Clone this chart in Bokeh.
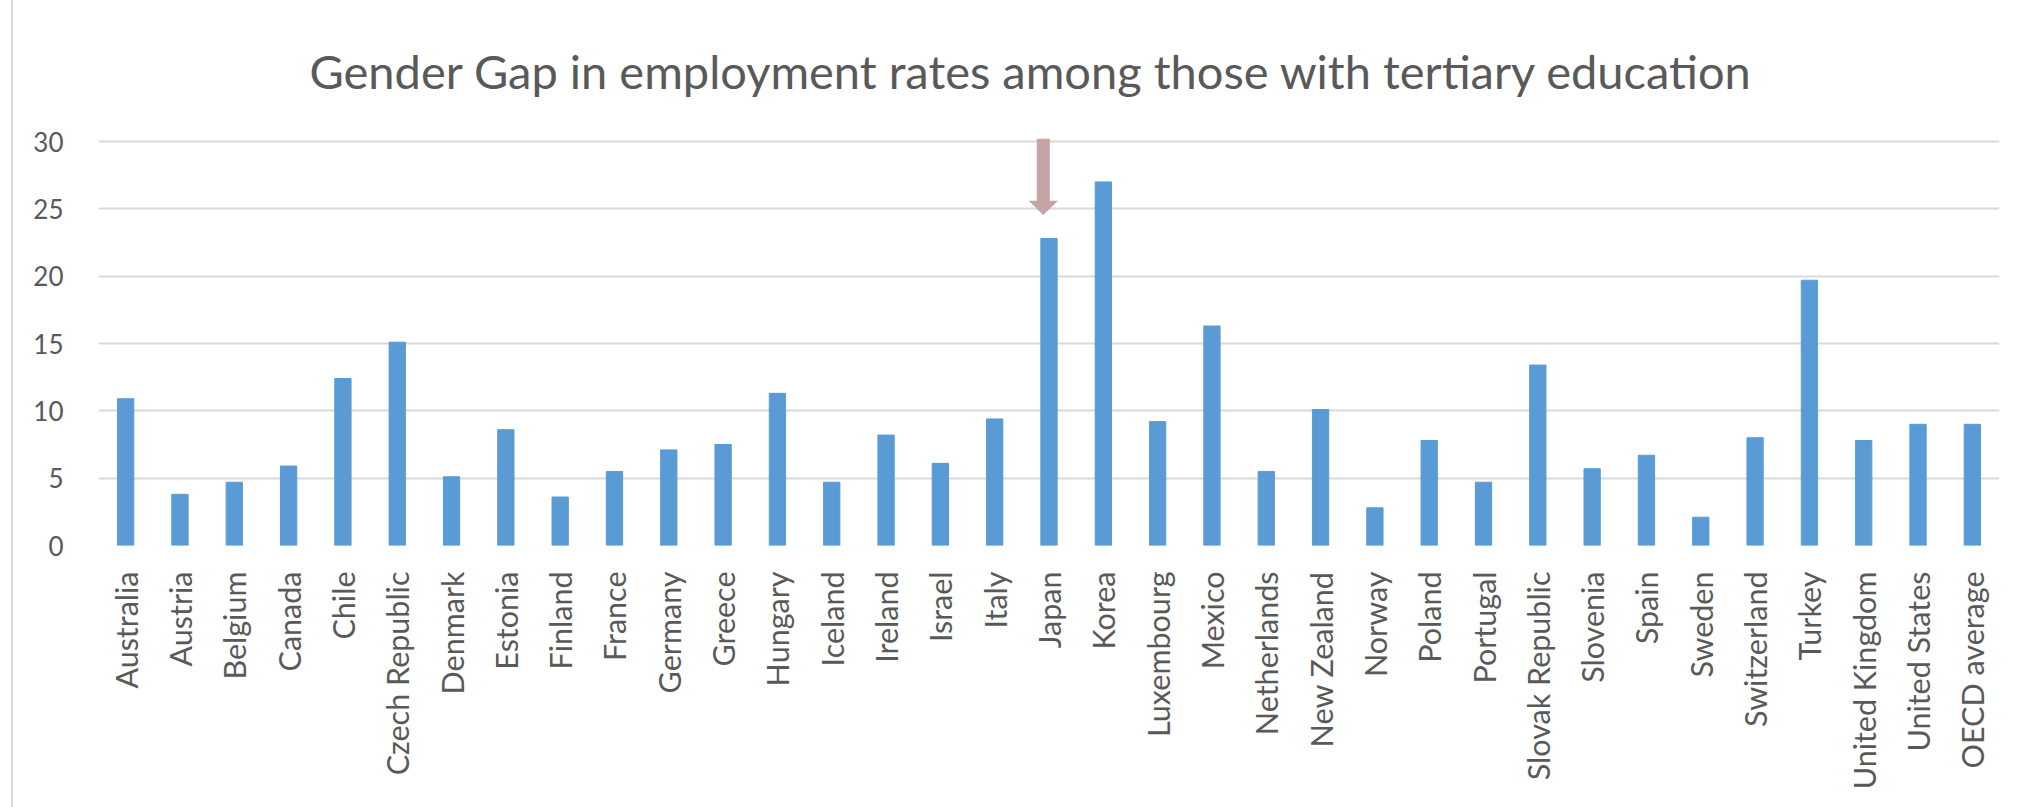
import math
from bokeh.plotting import figure
from bokeh.models import FactorRange, Range1d, FixedTicker
from bokeh.embed import file_html
from bokeh.resources import INLINE

title_text = "Gender Gap in employment rates among those with tertiary education"

countries = [
    "Australia", "Austria", "Belgium", "Canada", "Chile", "Czech Republic",
    "Denmark", "Estonia", "Finland", "France", "Germany", "Greece", "Hungary",
    "Iceland", "Ireland", "Israel", "Italy", "Japan", "Korea", "Luxembourg",
    "Mexico", "Netherlands", "New Zealand", "Norway", "Poland", "Portugal",
    "Slovak Republic", "Slovenia", "Spain", "Sweden", "Switzerland", "Turkey",
    "United Kingdom", "United States", "OECD average",
]
gender_gap = [
    10.9, 3.8, 4.7, 5.9, 12.4, 15.1,
    5.1, 8.6, 3.6, 5.5, 7.1, 7.5, 11.3,
    4.7, 8.2, 6.1, 9.4, 22.8, 27.0, 9.2,
    16.3, 5.5, 10.1, 2.8, 7.8, 4.7,
    13.4, 5.7, 6.7, 2.1, 8.0, 19.7,
    7.8, 9.0, 9.0,
]
y_ticks = [0, 5, 10, 15, 20, 25, 30]

# arrow annotation pointing at Japan
arrow_at = "Japan"
arrow_top, arrow_neck, arrow_tip = 30.2, 25.6, 24.55

TEXT = "#595959"
FONT = "Lato"

p = figure(
    x_range=FactorRange(*countries),
    y_range=Range1d(0, 30.3),
    width=2012, height=807,
    output_backend="svg", toolbar_location=None,
    min_border_left=98, min_border_right=13,
    min_border_top=137, min_border_bottom=262,
)

p.vbar(x=countries, top=gender_gap, width=0.3, color="#5b9bd5")

cx = countries.index(arrow_at) + 0.5 - 0.105
sh, hh = 0.12, 0.27
p.patch(
    [cx - sh, cx + sh, cx + sh, cx + hh, cx, cx - hh, cx - sh],
    [arrow_top, arrow_top, arrow_neck, arrow_neck, arrow_tip, arrow_neck, arrow_neck],
    fill_color="#c4a4a4", line_color=None,
)

p.title.text = title_text
p.title.text_font = FONT
p.title.text_font_size = "47px"
p.title.text_font_style = "normal"
p.title.text_color = TEXT
p.title.align = "left"
p.title.offset = 211
p.title.standoff = 78

p.yaxis.ticker = FixedTicker(ticks=y_ticks)
p.yaxis.major_label_text_font = FONT
p.yaxis.major_label_text_font_size = "26px"
p.yaxis.major_label_text_color = TEXT
p.yaxis.axis_line_color = None
p.yaxis.major_tick_line_color = None
p.yaxis.minor_tick_line_color = None
p.yaxis.major_label_standoff = 29

p.xaxis.major_label_orientation = math.pi / 2
p.xaxis.major_label_text_font = FONT
p.xaxis.major_label_text_font_size = "30.5px"
p.xaxis.major_label_text_color = TEXT
p.xaxis.axis_line_color = None
p.xaxis.major_tick_line_color = None
p.xaxis.minor_tick_line_color = None
p.xaxis.major_label_standoff = 20

p.xgrid.grid_line_color = None
p.ygrid.grid_line_color = "#d9d9d9"
p.ygrid.grid_line_width = 2
p.outline_line_color = None

# thin grey chart-area border on the left, drawn behind a transparent canvas border
p.border_fill_alpha = 0
p.background_fill_color = "white"
p.styles = {
    "background": "linear-gradient(to right, #ffffff 10.5px, #d9d9d9 10.5px, "
                  "#d9d9d9 13px, #ffffff 13px)",
}

open("out.html", "w").write(file_html(p, INLINE))
